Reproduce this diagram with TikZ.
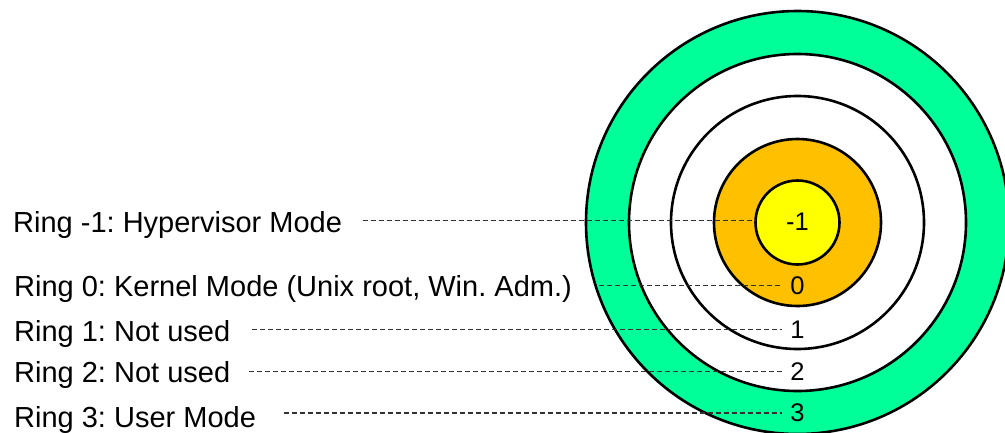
\documentclass[tikz,border=0pt]{standalone}
\usepackage{fontspec}
\setmainfont{Liberation Sans}
\usetikzlibrary{calc}
\frenchspacing
\definecolor{ringgreen}{RGB}{0,255,153}
\definecolor{ringorange}{RGB}{255,192,0}
\definecolor{ringyellow}{RGB}{255,255,0}
\definecolor{dashgray}{RGB}{50,50,50}
\tikzset{
  ringcircle/.style={circle, draw=black, line width=2.6pt, inner sep=0pt, outer sep=0pt, minimum size=#1},
  lbl/.style={anchor=base west, inner sep=0pt, font=\fontsize{29}{34}\selectfont},
  num/.style={inner ysep=0pt, inner xsep=8pt, font=\fontsize{25.5}{30}\selectfont},
  dashline/.style={draw=dashgray, line width=1.5pt, dash pattern=on 5pt off 3pt}
}
\begin{document}
\begin{tikzpicture}[x=1pt,y=-1pt]
\useasboundingbox (0,0) rectangle (1005,432);
\clip (0,0) rectangle (1005,432);
% rings
\node[ringcircle=423pt, fill=ringgreen] (ring3) at (797.5,222.5) {};
\node[ringcircle=337pt, fill=white] (ring2) at (797.5,222.5) {};
\node[ringcircle=253pt, fill=white] (ring1) at (797.5,222.5) {};
\node[ringcircle=167pt, fill=ringorange] (ring0) at (797.5,222.5) {};
\node[ringcircle=84pt, fill=ringyellow] (ringm1) at (797.5,222.5) {};
% numbers
\node[num] (nm1) at (797.5,222) {-1};
\node[num] (n0) at (797.5,285.5) {0};
\node[num] (n1) at (797.5,329.5) {1};
\node[num] (n2) at (797.5,371.5) {2};
\node[num] (n3) at (797.5,413) {3};
% labels
\node[lbl] (lm1) at (13,232) {Ring -1: Hypervisor Mode};
\node[lbl] (l0) at (14,296) {Ring 0: Kernel Mode (Unix root, Win. Adm.)};
\node[lbl] (l1) at (14,341) {Ring 1: Not used};
\node[lbl] (l2) at (14,382) {Ring 2: Not used};
\node[lbl] (l3) at (14,427) {Ring 3: User Mode};
% connectors
\draw[dashline] ($(ringm1.west -| lm1.east)+(21,-2)$) -- ($(ringm1.west)+(0,-2)$);
\draw[dashline] ($(n0.west -| l0.east)+(27,0)$) -- (n0.west);
\draw[dashline] ($(n1.west -| l1.east)+(22,0)$) -- (n1.west);
\draw[dashline] ($(n2.west -| l2.east)+(19,0)$) -- (n2.west);
\draw[dashline] ($(n3.west -| l3.east)+(28,0)$) -- (n3.west);
\end{tikzpicture}
\end{document}
